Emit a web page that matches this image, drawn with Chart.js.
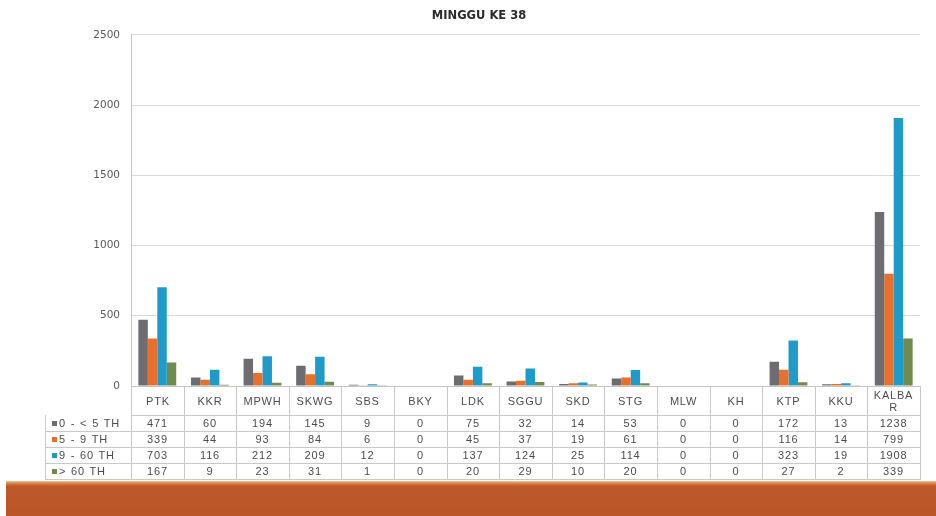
<!DOCTYPE html>
<html>
<head>
<meta charset="utf-8">
<script src="https://cdn.jsdelivr.net/npm/chart.js@4.4.1/dist/chart.umd.min.js"></script>
<style>
  html, body { margin: 0; padding: 0; background: #ffffff; }
  #wrap { position: relative; width: 936px; height: 516px; overflow: hidden; background: #fff; }
  #c { position: absolute; left: 0; top: 0; }
  .cell { position: absolute; box-sizing: border-box; border-right: 1px solid #c9c9c9; border-bottom: 1px solid #c9c9c9;
          display: flex; align-items: center; justify-content: center; text-align: center;
          font-family: 'Liberation Sans', Arial, sans-serif; font-size: 11px; color: #4d4d4d; letter-spacing: 0.8px;
          line-height: 12px; padding: 0 4px; word-break: break-all; }
  .lab { justify-content: flex-start; padding: 0 0 0 6px; word-spacing: 1px; white-space: nowrap; word-break: normal; border-left: 1px solid #c9c9c9; }
  .sw { display: inline-block; width: 5px; height: 5px; margin-right: 2px; flex: none; }
  #band { position: absolute; left: 6px; right: 0; top: 481px; bottom: 0;
          background: linear-gradient(to bottom, #f2c79a 0px, #d98a4f 2px, #bd5a2a 5px, #ba5528 100%); }
</style>
</head>
<body>
<div id="wrap">
  <canvas id="c" width="936" height="516"></canvas>
  <div id="table"></div>
  <div id="band"></div>
</div>
<script>
const titleText = 'MINGGU KE 38';
const categories = ['PTK','KKR','MPWH','SKWG','SBS','BKY','LDK','SGGU','SKD','STG','MLW','KH','KTP','KKU','KALBAR'];
const seriesLabels = ['0 - < 5 TH','5 - 9 TH','9 - 60 TH','> 60 TH'];
const seriesColors = ['#6d6c70','#e8702b','#1f9bc9','#6f8c4e'];
const s0 = [471,60,194,145,9,0,75,32,14,53,0,0,172,13,1238];
const s1 = [339,44,93,84,6,0,45,37,19,61,0,0,116,14,799];
const s2 = [703,116,212,209,12,0,137,124,25,114,0,0,323,19,1908];
const s3 = [167,9,23,31,1,0,20,29,10,20,0,0,27,2,339];
const allSeries = [s0, s1, s2, s3];
const yMin = 0, yMax = 2500, yStep = 500;

const chart = new Chart(document.getElementById('c'), {
  type: 'bar',
  data: {
    labels: categories,
    datasets: allSeries.map((d, i) => ({
      label: seriesLabels[i], data: d, backgroundColor: seriesColors[i],
      borderWidth: 0, categoryPercentage: 0.72, barPercentage: 1.0
    }))
  },
  options: {
    responsive: false,
    animation: false,
    layout: { padding: { left: 38, right: 16, top: 0, bottom: 0 } },
    plugins: {
      legend: { display: false },
      tooltip: { enabled: false },
      title: {
        display: true, text: titleText, color: '#2b2b2b',
        font: { family: 'DejaVu Sans', size: 11.5, weight: 'bold' },
        padding: { top: 9, bottom: 12 }
      }
    },
    scales: {
      x: {
        ticks: { display: false },
        grid: { display: false },
        border: { display: true, color: '#c4c4c4', width: 1 },
        afterFit: (s) => { s.height = 130; }
      },
      y: {
        min: yMin, max: yMax,
        ticks: { stepSize: yStep, color: '#5a5a5a', padding: 11,
                 font: { family: 'DejaVu Sans', size: 10.5 },
                 callback: (v) => String(v) },
        grid: { color: '#d9d9d9', lineWidth: 1, drawTicks: false },
        border: { display: true, color: '#c4c4c4', width: 1 },
        afterFit: (s) => { s.width = 93; }
      }
    }
  }
});

// Build the data table under the plot from the chart's own x scale
(function buildTable() {
  const xs = chart.scales.x;
  const area = chart.chartArea;
  const n = categories.length;
  const colW = (area.right - area.left) / n;
  const top = area.bottom;
  const headH = 29, rowH = 16;
  const labLeft = 45;
  const t = document.getElementById('table');
  function cell(x, y, w, h, cls) {
    const d = document.createElement('div');
    d.className = 'cell' + (cls ? ' ' + cls : '');
    d.style.left = Math.round(x) + 'px';
    d.style.top = Math.round(y) + 'px';
    d.style.width = (Math.round(x + w) - Math.round(x) + 1) + 'px';
    d.style.height = (Math.round(y + h) - Math.round(y) + 1) + 'px';
    t.appendChild(d);
    return d;
  }
  categories.forEach((c, i) => {
    const cx = xs.getPixelForValue(i);
    const x0 = cx - colW / 2;
    const hc = cell(x0, top, colW, headH);
    hc.textContent = c;
    if (i === 0) hc.style.borderLeft = '1px solid #c9c9c9';
    allSeries.forEach((s, r) => {
      const dc = cell(x0, top + headH + r * rowH, colW, rowH);
      dc.textContent = String(s[i]);
    });
  });
  seriesLabels.forEach((lab, r) => {
    const lc = cell(labLeft, top + headH + r * rowH, area.left - labLeft, rowH, 'lab');
    const sw = document.createElement('span');
    sw.className = 'sw';
    sw.style.background = seriesColors[r];
    lc.appendChild(sw);
    lc.appendChild(document.createTextNode(lab));
  });
})();
</script>
</body>
</html>
